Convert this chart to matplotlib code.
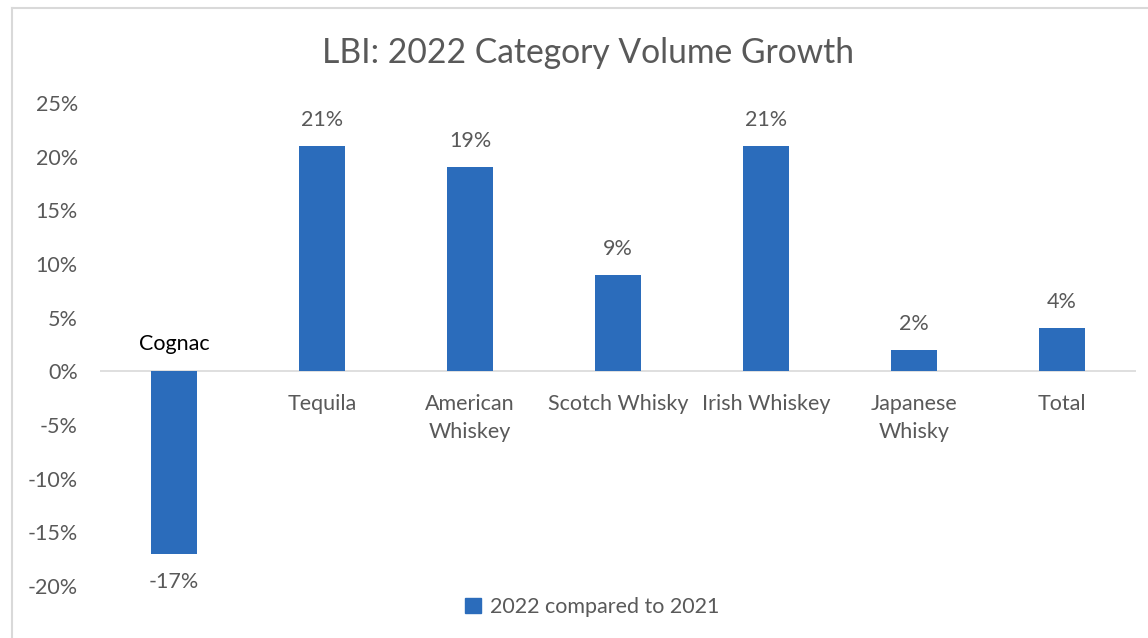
import matplotlib
matplotlib.use("Agg")
import matplotlib.pyplot as plt
from matplotlib.lines import Line2D
from matplotlib.patches import Patch

categories = ["Cognac", "Tequila", "American\nWhiskey", "Scotch Whisky", "Irish Whiskey", "Japanese\nWhisky", "Total"]
values = [-17, 21, 19, 9, 21, 2, 4]
yticks = [-20, -15, -10, -5, 0, 5, 10, 15, 20, 25]
title = "LBI: 2022 Category Volume Growth"
legend_label = "2022 compared to 2021"

BLUE = "#2B6CBB"
GRAY = "#595959"
FONT = ["Lato", "DejaVu Sans"]
plt.rcParams["font.family"] = FONT
FS = 15.5

fig = plt.figure(figsize=(11.48, 6.38), dpi=100)
ax = fig.add_axes([100 / 1148, 52 / 638, 1036 / 1148, 483 / 638])

x = list(range(len(categories)))
bars = ax.bar(x, values, width=0.31, color=BLUE, zorder=3)
ax.set_xlim(-0.5, len(categories) - 0.5)
ax.set_ylim(-20, 25)
ax.set_yticks(yticks)
ax.set_yticklabels([f"{t}%" for t in yticks], color=GRAY, fontsize=FS)
ax.tick_params(axis="y", length=0, pad=16)
ax.set_xticks([])
for s in ax.spines.values():
    s.set_visible(False)
ax.axhline(0, color="#D9D9D9", lw=1.2, zorder=2)

for xi, v, c in zip(x, values, categories):
    if v >= 0:
        ax.annotate(f"{v}%", (xi, v), xytext=(0, 18.7), textcoords="offset points",
                    ha="center", va="center", color=GRAY, fontsize=FS)
        ax.annotate(c, (xi, 0), xytext=(0, -16), textcoords="offset points",
                    ha="center", va="top", color=GRAY, fontsize=FS, linespacing=1.55)
    else:
        ax.annotate(f"{v}%", (xi, v), xytext=(0, -20), textcoords="offset points",
                    ha="center", va="center", color=GRAY, fontsize=FS)
        ax.annotate(c, (xi, 0), xytext=(0, 19.4), textcoords="offset points",
                    ha="center", va="center", color="black", fontsize=FS)

fig.text(588 / 1148, 1 - 53 / 638, title, ha="center", va="center", color=GRAY, fontsize=24.2)

handle = Patch(facecolor=BLUE, edgecolor=BLUE)
fig.legend([handle], [legend_label], loc="center", bbox_to_anchor=(592 / 1148, 1 - 607 / 638),
           frameon=False, fontsize=FS, labelcolor=GRAY, handlelength=0.75, handleheight=0.75,
           handletextpad=0.4)

# chart frame
fig.add_artist(Line2D([12 / 1148, 12 / 1148], [0, 1 - 8 / 638], transform=fig.transFigure, color="#D9D9D9", lw=1.5))
fig.add_artist(Line2D([12 / 1148, 1], [1 - 8 / 638, 1 - 8 / 638], transform=fig.transFigure, color="#D9D9D9", lw=1.5))

fig.savefig("out.png", dpi=100, facecolor="white")
